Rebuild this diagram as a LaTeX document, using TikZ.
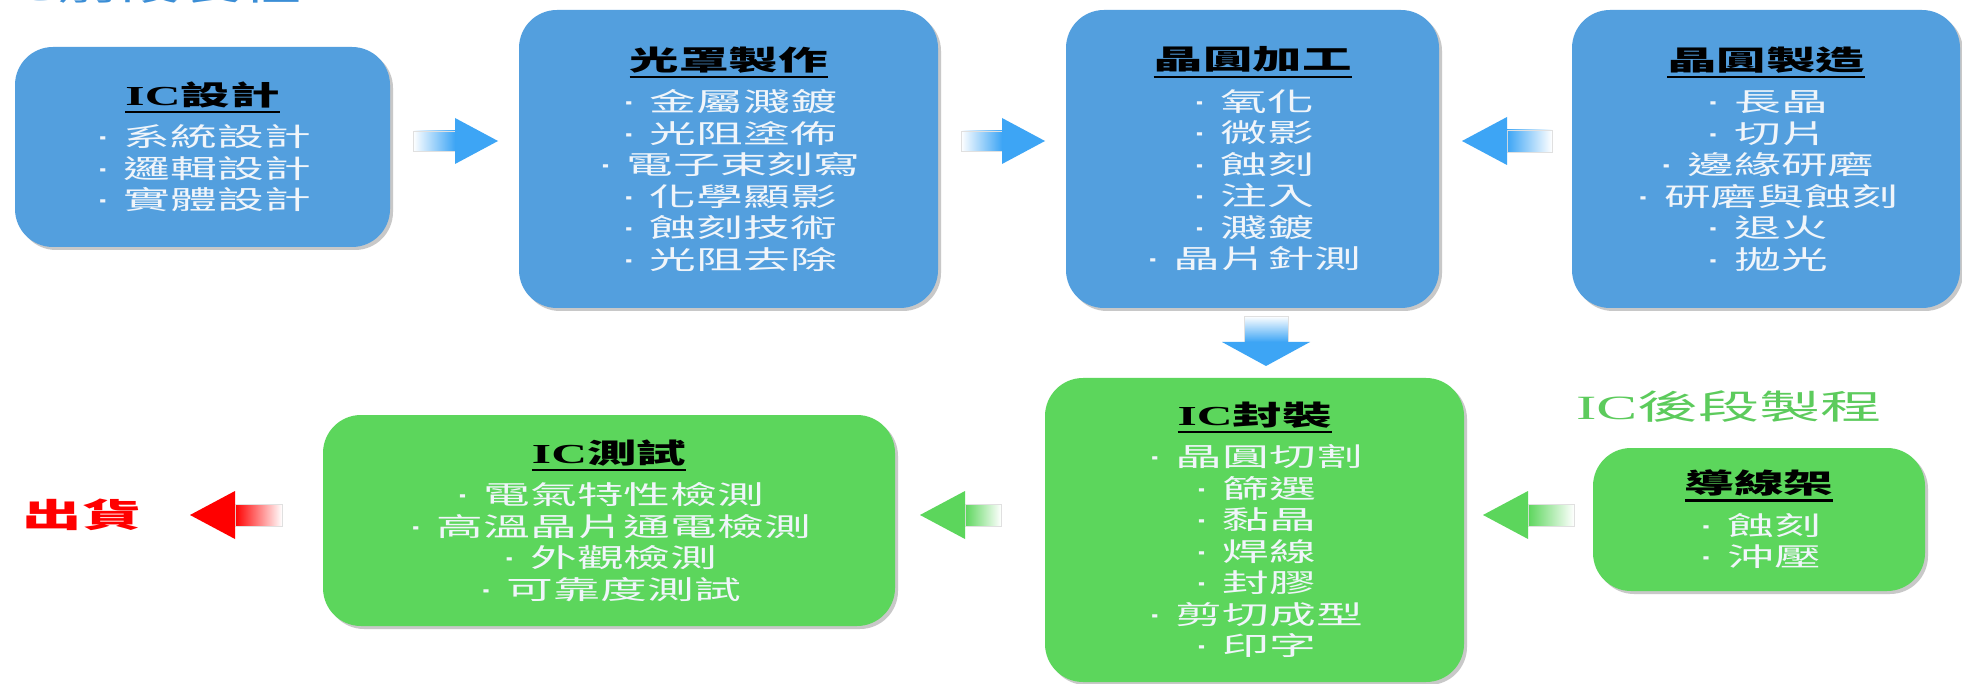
\documentclass[tikz,border=0pt]{standalone}
\usepackage{fontspec}
\usetikzlibrary{shadows,calc}
\newfontfamily\cjk[FakeStretch=1.8]{Noto Sans CJK TC}
\newfontfamily\lserif[FakeStretch=1.8]{Liberation Serif}
\newfontfamily\lsans[FakeStretch=1.8]{Liberation Sans}
\definecolor{cBlueBox}{HTML}{539FDE}
\definecolor{cGreenBox}{HTML}{5CD65C}
\definecolor{cBlueArrow}{HTML}{3DA5F5}
\definecolor{cGreenArrow}{HTML}{5CD65C}
\definecolor{cRed}{HTML}{FF0000}
\definecolor{cItem}{HTML}{F0F5FA}
\definecolor{cTopTitle}{HTML}{3B8ED6}
\definecolor{cBackTitle}{HTML}{5CCB5C}
\newcommand\itemfont{\cjk\fontsize{26}{31.5}\selectfont}
\newcommand\IC{{\lserif IC}}
\newcommand\bu{{\lsans\fontsize{30}{31.5}\selectfont ·}\hspace{12pt}}
\newcommand\ulbox[1]{\setbox0\hbox{#1}\rlap{\rule[-8pt]{\wd0}{2.4pt}}\box0}
\newcommand\ttl[1]{{\color{black}\bfseries\fontsize{27.5}{31.5}\selectfont\ulbox{#1}}}
% right-pointing block arrow: tail, tip, colour
\newcommand\rblock[3]{%
  \shade[left color=white,right color=#3,draw=black!12,line width=0.8pt]
    ($(#1)+(0,-10)$) rectangle ($(#2)+(-43,10)$);
  \fill[#3] ($(#2)+(-43,-23)$) -- (#2) -- ($(#2)+(-43,23)$) -- cycle;}
% left-pointing block arrow: tail, tip, colour
\newcommand\lblock[3]{%
  \shade[left color=#3,right color=white,draw=black!12,line width=0.8pt]
    ($(#2)+(45,-11)$) rectangle ($(#1)+(0,11)$);
  \fill[#3] ($(#2)+(45,-24)$) -- (#2) -- ($(#2)+(45,24)$) -- cycle;}
\tikzset{
  procbox/.style={rounded corners=38pt, align=center, text=cItem, font=\itemfont,
    inner sep=0pt,
    drop shadow={shadow xshift=3pt,shadow yshift=-3pt,opacity=0.3,fill=black!70}},
  bluebox/.style={procbox, fill=cBlueBox},
  greenbox/.style={procbox, fill=cGreenBox},
}
\begin{document}
\begin{tikzpicture}[x=1pt,y=-1pt]
\useasboundingbox (0,0) rectangle (1962,684);
\fill[white] (0,0) rectangle (1962,684);

% top title, cut by the picture's upper edge as in the reference
\node[anchor=base west, inner sep=0pt, text=cTopTitle, font=\cjk\fontsize{34}{40}\selectfont]
  (fronttitle) at (-4,0.5) {\IC 前段製程};

% upper row
\node[bluebox, minimum width=375pt, minimum height=200pt] (ic) at (202.5,147)
  {\ttl{\IC 設計}\\[10pt] \bu 系統設計\\ \bu 邏輯設計\\ \bu 實體設計};
\node[bluebox, minimum width=419pt, minimum height=298pt] (mask) at (728.5,159)
  {\ttl{光罩製作}\\[10pt] \bu 金屬濺鍍\\ \bu 光阻塗佈\\ \bu 電子束刻寫\\ \bu 化學顯影\\ \bu 蝕刻技術\\ \bu 光阻去除};
\node[bluebox, minimum width=373pt, minimum height=298pt] (proc) at (1252.5,159)
  {\ttl{晶圓加工}\\[10pt] \bu 氧化\\ \bu 微影\\ \bu 蝕刻\\ \bu 注入\\ \bu 濺鍍\\ \bu 晶片針測};
\node[bluebox, minimum width=388pt, minimum height=298pt] (wafer) at (1766,159)
  {\ttl{晶圓製造}\\[10pt] \bu 長晶\\ \bu 切片\\ \bu 邊緣研磨\\ \bu 研磨與蝕刻\\ \bu 退火\\ \bu 拋光};

% lower row
\node[greenbox, minimum width=419pt, minimum height=304pt] (pkg) at (1254.5,530)
  {\ttl{\IC 封裝}\\[10pt] \bu 晶圓切割\\ \bu 篩選\\ \bu 黏晶\\ \bu 焊線\\ \bu 封膠\\ \bu 剪切成型\\ \bu 印字};
\node[greenbox, minimum width=572pt, minimum height=211pt] (test) at (609,520.5)
  {\ttl{\IC 測試}\\[10pt] \bu 電氣特性檢測\\ \bu 高溫晶片通電檢測\\ \bu 外觀檢測\\ \bu 可靠度測試};
\node[greenbox, minimum width=332pt, minimum height=143pt] (lead) at (1759,519.5)
  {\ttl{導線架}\\[10pt] \bu 蝕刻\\ \bu 沖壓};

\node[inner sep=0pt, text=cBackTitle, font=\cjk\fontsize{34}{40}\selectfont]
  (backtitle) at (1729,407) {\IC 後段製程};
\node[inner sep=0pt, text=cRed, font=\cjk\bfseries\fontsize{33}{40}\selectfont]
  (ship) at (82,515) {出貨};

% arrow anchor points
\coordinate (a1t) at (413,141);  \coordinate (a1h) at (498,141);
\coordinate (a2t) at (961,141);  \coordinate (a2h) at (1045,141);
\coordinate (a3t) at (1552,141); \coordinate (a3h) at (1462,141);
\coordinate (g1t) at (1574,515); \coordinate (g1h) at (1483,515);
\coordinate (g2t) at (1001,515); \coordinate (g2h) at (920,515);
\coordinate (r1t) at (282,515);  \coordinate (r1h) at (190,515);
\coordinate (dt) at (1266,316);  \coordinate (dh) at (1266,366);

\rblock{a1t}{a1h}{cBlueArrow}
\rblock{a2t}{a2h}{cBlueArrow}
\lblock{a3t}{a3h}{cBlueArrow}
\lblock{g1t}{g1h}{cGreenArrow}
\lblock{g2t}{g2h}{cGreenArrow}
\lblock{r1t}{r1h}{cRed}
% downward arrow
\shade[top color=white,bottom color=cBlueArrow,draw=black!12,line width=0.8pt]
  ($(dt)+(-22,0)$) rectangle ($(dh)+(22,-24)$);
\fill[cBlueArrow] ($(dh)+(-44,-24)$) -- (dh) -- ($(dh)+(44,-24)$) -- cycle;
\end{tikzpicture}
\end{document}
